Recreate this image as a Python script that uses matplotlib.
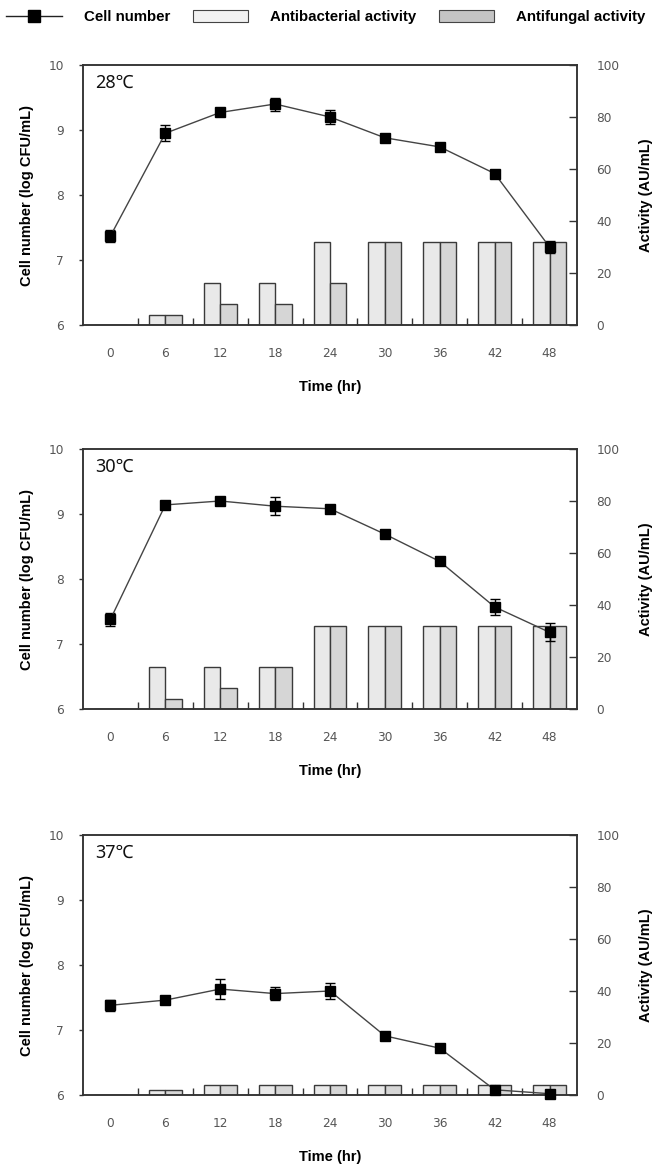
import numpy as np
import matplotlib
matplotlib.use('Agg')
import matplotlib.pyplot as plt
from matplotlib.lines import Line2D
from matplotlib.patches import Patch

# data
time = [0, 6, 12, 18, 24, 30, 36, 42, 48]
temps = ['28\u2103', '30\u2103', '37\u2103']

cell_28 = [7.37, 8.95, 9.27, 9.40, 9.20, 8.88, 8.74, 8.33, 7.20]
err_28 = [0.09, 0.12, 0.05, 0.10, 0.11, 0.03, 0.03, 0.03, 0.10]
antibac_28 = [0, 4, 16, 16, 32, 32, 32, 32, 32]
antifun_28 = [0, 4, 8, 8, 16, 32, 32, 32, 32]

cell_30 = [7.38, 9.14, 9.20, 9.12, 9.08, 8.69, 8.27, 7.57, 7.18]
err_30 = [0.10, 0.03, 0.03, 0.14, 0.03, 0.03, 0.03, 0.12, 0.14]
antibac_30 = [0, 16, 16, 16, 32, 32, 32, 32, 32]
antifun_30 = [0, 4, 8, 16, 32, 32, 32, 32, 32]

cell_37 = [7.38, 7.46, 7.63, 7.56, 7.60, 6.91, 6.72, 6.08, 6.02]
err_37 = [0.08, 0.03, 0.16, 0.10, 0.13, 0.03, 0.03, 0.03, 0.03]
antibac_37 = [0, 2, 4, 4, 4, 4, 4, 4, 4]
antifun_37 = [0, 2, 4, 4, 4, 4, 4, 4, 4]

panels = [
    (cell_28, err_28, antibac_28, antifun_28),
    (cell_30, err_30, antibac_30, antifun_30),
    (cell_37, err_37, antibac_37, antifun_37),
]

plt.rcParams['font.family'] = ['DejaVu Sans']
lab_font = dict(family='Liberation Sans', weight='bold', size=10.5)
tick_col = '#555555'
spine_col = '#333333'
bac_col = '#e9e9e9'
fun_col = '#d6d6d6'

fig = plt.figure(figsize=(6.57, 11.74), dpi=100)

bottoms = [1 - 325 / 1174, 1 - 709 / 1174, 1 - 1095 / 1174]
x = np.arange(len(time))
w = 0.3

for k, (cell, err, bac, fun) in enumerate(panels):
    ax = fig.add_axes([83 / 657, bottoms[k], 494 / 657, 260 / 1174])
    ax2 = ax.twinx()

    ax2.bar(x - w / 2, bac, w, color=bac_col, edgecolor='#3a3a3a', linewidth=1.0)
    ax2.bar(x + w / 2, fun, w, color=fun_col, edgecolor='#3a3a3a', linewidth=1.0)
    ax2.set_ylim(0, 100)
    ax2.set_yticks([0, 20, 40, 60, 80, 100])
    ax2.tick_params(axis='y', direction='in', length=6, width=1, color=spine_col,
                    pad=14, labelsize=8.7, labelcolor=tick_col)
    ax2.set_ylabel('Activity (AU/mL)', fontdict=lab_font, labelpad=14)

    ax.set_zorder(ax2.get_zorder() + 1)
    ax.patch.set_visible(False)
    ax.errorbar(x, cell, yerr=err, color='#444444', lw=1.0, marker='s', ms=7.8,
                mfc='black', mec='black', ecolor='black', elinewidth=1.0,
                capsize=3.5, capthick=1.0, clip_on=False, zorder=5)
    ax.set_ylim(6, 10)
    ax.set_yticks([6, 7, 8, 9, 10])
    ax.set_xlim(-0.5, 8.5)
    ax.set_xticks(x)
    ax.set_xticklabels([str(t) for t in time])
    ax.set_xticks(x[:-1] + 0.5, minor=True)
    ax.tick_params(axis='x', which='major', length=0, pad=16, labelsize=8.7,
                   labelcolor=tick_col)
    ax.tick_params(axis='x', which='minor', direction='in', length=5, width=1,
                   color=spine_col)
    ax.tick_params(axis='y', direction='out', length=3, width=1, color=spine_col,
                   pad=11, labelsize=8.7, labelcolor=tick_col)
    ax.set_ylabel('Cell number (log CFU/mL)', fontdict=lab_font, labelpad=10)
    ax.set_xlabel('Time (hr)', fontdict=lab_font, labelpad=14)

    for a in (ax, ax2):
        for s in a.spines.values():
            s.set_color(spine_col)
            s.set_linewidth(1.1)

    ax.text(0.024, 0.93, temps[k], transform=ax.transAxes, ha='left', va='center',
            family='Noto Sans', fontsize=13, color='#111111')

handles = [
    Line2D([0], [0], color='#222222', lw=1.0, marker='s', ms=8.5, mfc='black', mec='black'),
    Patch(facecolor='#f2f2f2', edgecolor='#444444', linewidth=0.8),
    Patch(facecolor='#c4c4c4', edgecolor='#444444', linewidth=0.8),
]
fig.legend(handles, ['Cell number', 'Antibacterial activity', 'Antifungal activity'],
           loc='center', bbox_to_anchor=(0.496, 1 - 17 / 1174), ncol=3, frameon=False,
           prop=dict(family='Liberation Sans', weight='bold', size=10.8),
           handlelength=3.7, handleheight=0.9, handletextpad=1.45, columnspacing=1.5)

fig.savefig('out.png', dpi=100)
